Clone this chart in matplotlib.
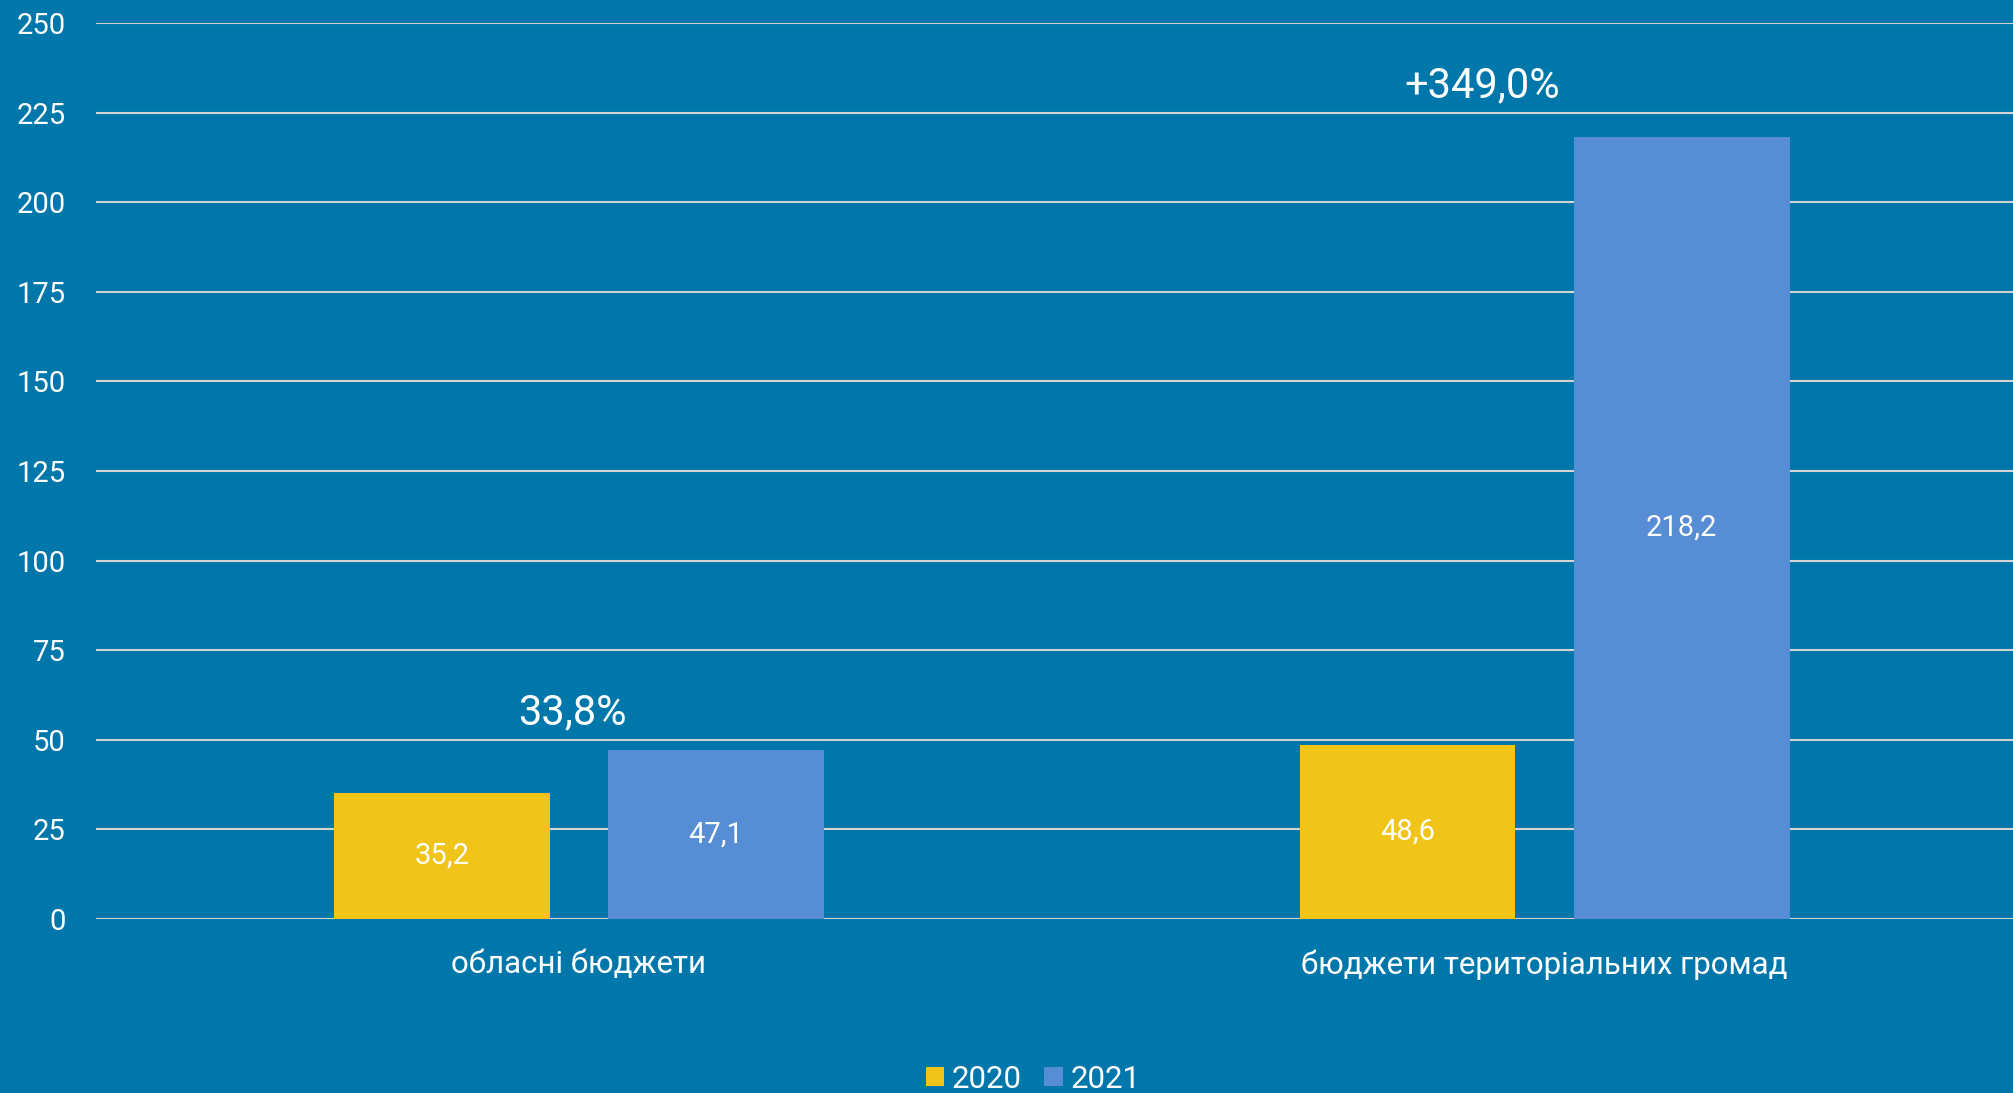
import matplotlib
matplotlib.use("Agg")
import matplotlib.pyplot as plt
import numpy as np

categories = ["обласні бюджети", "бюджети територіальних громад"]
series_names = ["2020", "2021"]
values_2020 = [35.2, 48.6]
values_2021 = [47.1, 218.2]
growth_labels = ["33,8%", "+349,0%"]
growth_y = [57.5, 232.4]
growth_x = [-0.007, 0.935]
yticks = [0, 25, 50, 75, 100, 125, 150, 175, 200, 225, 250]

BG = "#0077AA"
YELLOW = "#F0C419"
BLUE = "#568DD4"
GRID = "#D4D4D4"

plt.rcParams['font.family'] = ['Roboto', 'DejaVu Sans']

fig = plt.figure(figsize=(20.13, 10.93), dpi=100, facecolor=BG)
ax = fig.add_axes([96/2013, 1-919/1093, 1-96/2013, (919-23)/1093])
ax.set_facecolor(BG)

x = np.arange(len(categories))
w = 0.2234
off = 0.142
b1 = ax.bar(x - off, values_2020, w, color=YELLOW, zorder=3, label=series_names[0])
b2 = ax.bar(x + off, values_2021, w, color=BLUE, zorder=3, label=series_names[1])

def fmt(v):
    return f"{v:.1f}".replace(".", ",")

for bars, vals in ((b1, values_2020), (b2, values_2021)):
    for r, v in zip(bars, vals):
        ax.text(r.get_x() + r.get_width()/2, v/2, fmt(v), ha="center", va="center",
                color="white", fontsize=21, zorder=4)

for gx, gy, gl in zip(growth_x, growth_y, growth_labels):
    ax.text(gx, gy, gl, ha="center", va="center", color="white", fontsize=30, zorder=4)

ax.set_xlim(-0.5, 1.485)
ax.set_ylim(0, 250)
ax.set_yticks(yticks)
ax.set_yticklabels([str(t) for t in yticks])
ax.yaxis.grid(True, color=GRID, linewidth=1.5, zorder=1)
ax.set_axisbelow(True)
ax.set_xticks(x)
ax.set_xticklabels(categories)
ax.tick_params(axis="both", length=0, colors="white")
ax.tick_params(axis="x", pad=22, labelsize=22.5)
ax.tick_params(axis="y", pad=22, labelsize=21)
for lbl in ax.get_xticklabels():
    lbl.set_color("white")
for lbl in ax.get_yticklabels():
    lbl.set_color("white")
for s in ax.spines.values():
    s.set_visible(False)

leg = fig.legend(handles=[b1, b2], labels=series_names, loc="center",
                 bbox_to_anchor=(1033/2013, 1-1079/1093), ncol=2, frameon=False,
                 fontsize=22.5, handlelength=0.6, handleheight=0.6, handletextpad=0.25,
                 columnspacing=0.7)
for t in leg.get_texts():
    t.set_color("white")

fig.savefig("out.png", dpi=100, facecolor=BG)
